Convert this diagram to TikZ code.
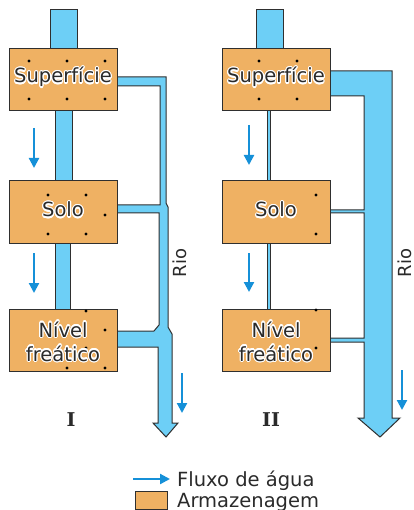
\documentclass[tikz,border=0pt]{standalone}
\usepackage{fontspec}
\setmainfont{DejaVu Sans}
\newfontfamily\serifbf{DejaVu Serif}
\usepackage[copies]{contour}
\contourlength{1.1pt}
\contournumber{16}
\usetikzlibrary{arrows.meta}
\definecolor{boxc}{HTML}{EFB163}
\definecolor{pipec}{HTML}{6DCFF6}
\definecolor{arrowc}{HTML}{1590D8}
\definecolor{linec}{HTML}{2F2F2F}
\definecolor{txtc}{HTML}{2A2A2A}
\tikzset{
  pipe/.style={fill=pipec, draw=linec, line width=1pt, line join=miter},
  stor/.style={rectangle, fill=boxc, draw=linec, line width=1pt, minimum width=108pt, minimum height=62pt, inner sep=0pt},
  flow/.style={draw=arrowc, line width=2.2pt, -{Triangle[length=10pt,width=10pt]}},
  lbl/.style={font=\fontsize{19.5}{22}\selectfont, text=txtc, inner sep=0pt, anchor=base},
  rio/.style={font=\fontsize{18}{20}\selectfont, text=txtc, inner sep=0pt, rotate=90},
  roman/.style={font=\serifbf\bfseries\fontsize{19}{21}\selectfont, text=txtc, inner sep=0pt, anchor=base},
  dot/.style={fill=black}
}
\newcommand{\halo}[1]{\contour{white}{#1}}
\begin{document}
\begin{tikzpicture}[x=1pt,y=-1pt]
\useasboundingbox (0,0) rectangle (413,510);
% ---------- Diagram I pipes
\draw[pipe] (50,10) rectangle (77,60);
\draw[pipe] (55,100) rectangle (72,190);
\draw[pipe] (55,235) rectangle (70,318);
\draw[pipe] (100,77) -- (166,77) -- (166,203) -- (168,207) -- (168,327) -- (172,334)
  -- (172,423) -- (178,423) -- (166,437) -- (153,423) -- (158,423) -- (158,347)
  -- (100,347) -- (100,331) -- (154,331) -- (159,325) -- (159,213) -- (100,213)
  -- (100,205) -- (160,205) -- (160,86) -- (100,86) -- cycle;
% ---------- Diagram II pipes
\draw[pipe] (256,10) rectangle (283,60);
\draw[pipe] (267,100) rectangle (270,190);
\draw[pipe] (267,235) rectangle (270,318);
\draw[pipe] (320,71) -- (392,71) -- (392,418) -- (400,418) -- (380,437) -- (358,418)
  -- (364,418) -- (364,342) -- (320,342) -- (320,338) -- (364,338) -- (364,213)
  -- (320,213) -- (320,210) -- (364,210) -- (364,96) -- (320,96) -- cycle;
% ---------- boxes
\node[stor] (sup1) at (63,80) {};
\node[stor] (solo1) at (63,212) {};
\node[stor] (niv1) at (63,340) {};
\node[stor] (sup2) at (276,80) {};
\node[stor] (solo2) at (276,212) {};
\node[stor] (niv2) at (276,340) {};
% ---------- dots
\foreach \p in {(29,61),(67,61),(105,61),(29,99),(67,99),(105,99),
  (48,195),(86,195),(105,215),(48,234),(86,234),
  (86,311),(105,330),(86,348),(67,368),(105,368),
  (259,61),(297,61),(259,99),(297,99),
  (316,195),(316,234),(316,310),(316,348)}
  \fill[dot] \p circle (1.6pt);
% ---------- labels
\node[lbl] (tsup1) at (63,83) {\halo{Superfície}};
\node[lbl] (tsolo1) at (63,217) {\halo{Solo}};
\node[lbl] (tniv1a) at (63,337) {\halo{Nível}};
\node[lbl] (tniv1b) at (63,361) {\halo{freático}};
\node[lbl] (tsup2) at (276,83) {\halo{Superfície}};
\node[lbl] (tsolo2) at (276,217) {\halo{Solo}};
\node[lbl] (tniv2a) at (276,337) {\halo{Nível}};
\node[lbl] (tniv2b) at (276,361) {\halo{freático}};
\node[rio] (rio1) at (180,263) {Rio};
\node[rio] (rio2) at (405,263) {Rio};
\node[roman] (r1) at (71,426) {I};
\node[roman] (r2) at (271,426) {II};
% ---------- flow arrows
\draw[flow] (34,128) -- (34,168);
\draw[flow] (34,253) -- (34,293);
\draw[flow] (182,373) -- (182,413);
\draw[flow] (249,125) -- (249,165);
\draw[flow] (249,253) -- (249,292);
\draw[flow] (402,370) -- (402,410);
% ---------- legend
\coordinate (la0) at (133,479);
\coordinate (la1) at (170,479);
\draw[flow] (la0) -- (la1);
\node[lbl, anchor=base west] (lt1) at (177,486) {Fluxo de água};
\draw[fill=boxc, draw=linec, line width=1pt] (135,491) rectangle (167,509);
\node[lbl, anchor=base west] (lt2) at (177,507) {Armazenagem};
\end{tikzpicture}
\end{document}
